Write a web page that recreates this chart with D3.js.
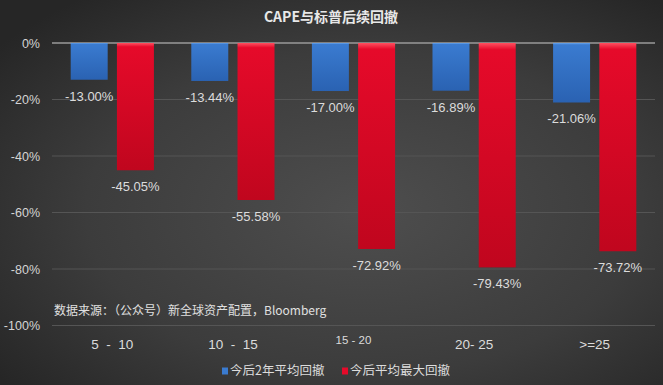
<!DOCTYPE html>
<html>
<head>
<meta charset="utf-8">
<script src="https://cdn.jsdelivr.net/npm/d3@7"></script>
<style>
  html, body { margin: 0; padding: 0; background: #333; }
  svg { display: block; }
  svg text { white-space: pre; }
</style>
</head>
<body>
<div id="chart"></div>
<script>
// chart data
const categories = ["5  -  10", "10  -  15", "15 - 20", "20- 25", ">=25"];
const seriesNames = ["今后2年平均回撤", "今后平均最大回撤"];
const avgDrawdown = [-13.00, -13.44, -17.00, -16.89, -21.06];
const maxDrawdown = [-45.05, -55.58, -72.92, -79.43, -73.72];
const yTicks = [0, -20, -40, -60, -80, -100];
const titleText = "CAPE与标普后续回撤";
const sourceText = "数据来源：（公众号）新全球资产配置，Bloomberg";

const width = 663, height = 385;
const margin = { top: 43, right: 8, bottom: 60, left: 52 };
const font = "'Liberation Sans', Arial, 'Noto Sans CJK SC', sans-serif";
const cjkFont = "'Noto Sans CJK SC', 'Liberation Sans', sans-serif";

const svg = d3.select("#chart").append("svg")
    .attr("width", width)
    .attr("height", height);

const defs = svg.append("defs");

// background: dark with a lighter middle
const bg = defs.append("radialGradient").attr("id", "bg")
    .attr("cx", "55%").attr("cy", "55%").attr("r", "70%");
bg.append("stop").attr("offset", "0%").attr("stop-color", "#4e4e4e");
bg.append("stop").attr("offset", "60%").attr("stop-color", "#3c3c3c");
bg.append("stop").attr("offset", "100%").attr("stop-color", "#262626");

// bar fills
function barGradient(id, top, mid, bottom) {
    const g = defs.append("linearGradient").attr("id", id)
        .attr("x1", 0).attr("y1", 0).attr("x2", 0).attr("y2", 1);
    g.append("stop").attr("offset", "0%").attr("stop-color", top);
    g.append("stop").attr("offset", "3%").attr("stop-color", mid);
    g.append("stop").attr("offset", "100%").attr("stop-color", bottom);
}
barGradient("gBlue", "#6aa6ee", "#3a7bd0", "#2a62b2");
barGradient("gRed", "#ff5060", "#e60a2a", "#c0061e");
const fills = ["url(#gBlue)", "url(#gRed)"];
const legendColors = ["#3a7bd0", "#e60a2a"];

svg.append("rect")
    .attr("width", width).attr("height", height)
    .attr("fill", "url(#bg)");

// scales
const x0 = d3.scaleBand()
    .domain(categories)
    .range([margin.left, width - margin.right])
    .paddingInner(0.31)
    .paddingOuter(0.155);

const x1 = d3.scaleBand()
    .domain([0, 1])
    .range([0, x0.bandwidth()])
    .paddingInner(0.2);

const y = d3.scaleLinear()
    .domain([0, -100])
    .range([margin.top, height - margin.bottom + 0.5]);

// title
svg.append("text")
    .attr("x", 331).attr("y", 22)
    .attr("text-anchor", "middle")
    .attr("fill", "#e8e8e8")
    .attr("font-family", cjkFont)
    .attr("font-size", 14)
    .attr("font-weight", "bold")
    .text(titleText);

// gridlines
svg.append("g")
    .selectAll("line")
    .data(yTicks)
    .join("line")
    .attr("x1", margin.left).attr("x2", width - margin.right)
    .attr("y1", d => y(d)).attr("y2", d => y(d))
    .attr("stroke", d => d === 0 ? "#9a9a9a" : "#555555")
    .attr("stroke-width", d => d === 0 ? 1.5 : 1);

// y axis labels
const yAxis = svg.append("g")
    .attr("transform", `translate(${margin.left},0)`)
    .call(d3.axisLeft(y).tickValues(yTicks).tickSize(0).tickPadding(12)
        .tickFormat(d => d + "%"));
yAxis.select(".domain").remove();
yAxis.selectAll("text")
    .attr("fill", "#d4d4d4")
    .attr("font-family", font)
    .attr("font-size", 12.5);

// bars
const rows = categories.map((c, i) => ({ cat: c, values: [avgDrawdown[i], maxDrawdown[i]] }));

const groups = svg.append("g")
    .selectAll("g")
    .data(rows)
    .join("g")
    .attr("transform", d => `translate(${x0(d.cat)},0)`);

groups.selectAll("rect")
    .data(d => d.values.map((v, k) => ({ v, k })))
    .join("rect")
    .attr("x", d => x1(d.k))
    .attr("y", y(0))
    .attr("width", x1.bandwidth())
    .attr("height", d => y(d.v) - y(0))
    .attr("fill", d => fills[d.k]);

groups.selectAll("text")
    .data(d => d.values.map((v, k) => ({ v, k })))
    .join("text")
    .attr("x", d => x1(d.k) + x1.bandwidth() / 2)
    .attr("y", d => y(d.v) + 21)
    .attr("text-anchor", "middle")
    .attr("fill", "#dcdcdc")
    .attr("font-family", font)
    .attr("font-size", 13)
    .text(d => d.v.toFixed(2) + "%");

// category labels
const xAxis = svg.append("g")
    .attr("transform", `translate(0,${height - margin.bottom})`)
    .call(d3.axisBottom(x0).tickSize(0).tickPadding(14));
xAxis.select(".domain").remove();
xAxis.selectAll("text")
    .attr("fill", "#dcdcdc")
    .attr("font-family", font)
    .attr("font-size", d => d === "15 - 20" ? 11.5 : 13.5)
    .attr("dy", d => d === "15 - 20" ? "0.45em" : "0.71em");

// data source note
svg.append("text")
    .attr("x", 54).attr("y", 315)
    .attr("fill", "#e0e0e0")
    .attr("font-family", cjkFont)
    .attr("font-size", 12)
    .text(sourceText);

// legend
const legendX = [222, 342];
const legend = svg.append("g")
    .selectAll("g")
    .data(seriesNames)
    .join("g")
    .attr("transform", (d, i) => `translate(${legendX[i]},371)`);
legend.append("rect")
    .attr("x", 0).attr("y", -3.5)
    .attr("width", 6).attr("height", 7)
    .attr("fill", (d, i) => legendColors[i]);
legend.append("text")
    .attr("x", 8).attr("y", 0)
    .attr("dy", "0.35em")
    .attr("fill", "#dcdcdc")
    .attr("font-family", cjkFont)
    .attr("font-size", 12.5)
    .text(d => d);
</script>
</body>
</html>
